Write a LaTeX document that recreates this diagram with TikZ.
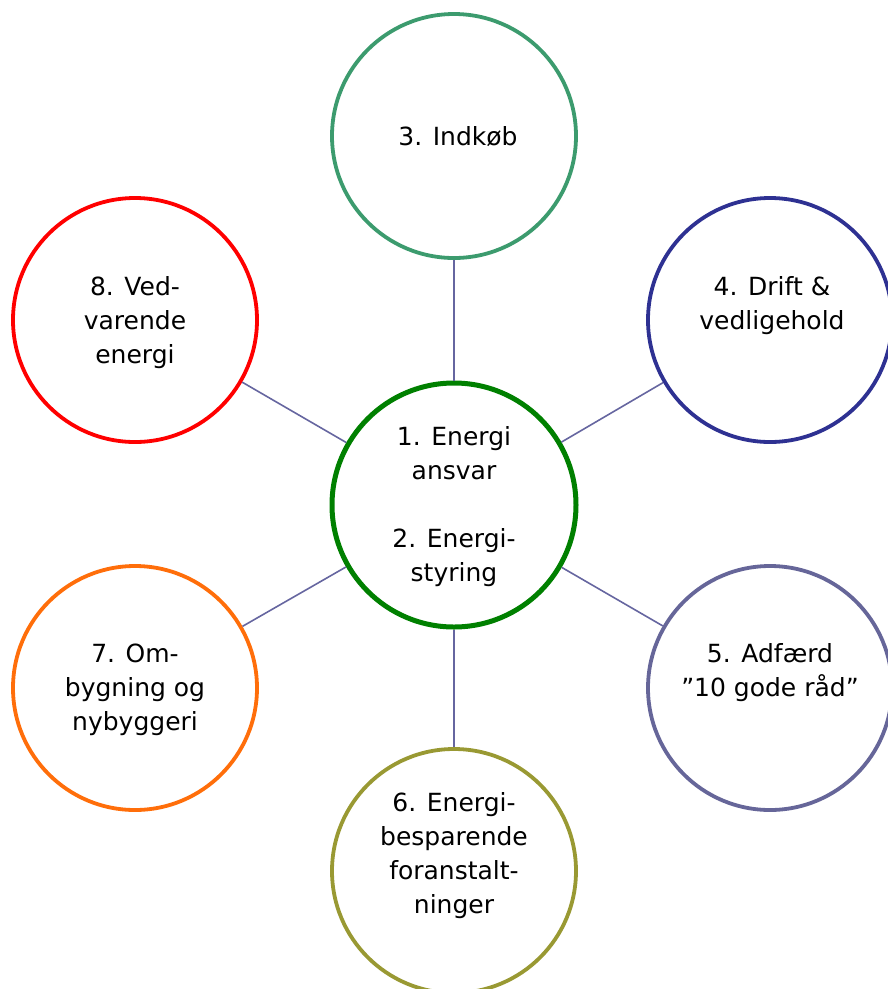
\documentclass[tikz,border=0pt]{standalone}
\usepackage{fontspec}
\setmainfont{DejaVu Sans}
\definecolor{cIndkob}{RGB}{60,155,110}
\definecolor{cDrift}{RGB}{46,49,146}
\definecolor{cAdfaerd}{RGB}{102,102,153}
\definecolor{cBesp}{RGB}{153,153,51}
\definecolor{cOmbyg}{RGB}{255,110,10}
\definecolor{cVed}{RGB}{255,0,0}
\definecolor{cCenter}{RGB}{0,128,0}
\definecolor{cLink}{RGB}{102,102,160}
\newcommand{\lines}[1]{\begin{tabular}[t]{@{}c@{}}#1\end{tabular}}
\tikzset{
  ring/.style={circle, draw=#1, line width=3.8pt, minimum size=244pt, inner sep=0pt, fill=white},
  hub/.style={circle, draw=cCenter, line width=5pt, minimum size=244pt, inner sep=0pt, fill=white},
  link/.style={draw=cLink, line width=1.6pt},
  lbl/.style={anchor=base, inner sep=0pt, font=\fontsize{25}{34}\selectfont}
}
\begin{document}
\begin{tikzpicture}[x=1pt,y=-1pt]
\useasboundingbox (0,0) rectangle (888,989);
\node[hub] (c) at (454,505) {};
\node[ring=cIndkob] (n3) at (454,136) {};
\node[ring=cDrift] (n4) at (770,320) {};
\node[ring=cAdfaerd] (n5) at (770,688) {};
\node[ring=cBesp] (n6) at (454,871) {};
\node[ring=cOmbyg] (n7) at (135,688) {};
\node[ring=cVed] (n8) at (135,320) {};
\foreach \n in {n3,n4,n5,n6,n7,n8} \draw[link] (c) -- (\n);
\node[lbl] (t1) at (454,445) {\lines{1. Energi\\ansvar\\ \\2. Energi-\\styring}};
\node[lbl] (t3) at (458,145) {\lines{3. Indkøb}};
\node[lbl] (t4) at (772,295) {\lines{4. Drift \&\\vedligehold}};
\node[lbl] (t5) at (770,662) {\lines{5. Adfærd\\”10 gode råd”}};
\node[lbl] (t6) at (454,811) {\lines{6. Energi-\\besparende\\foranstalt-\\ninger}};
\node[lbl] (t7) at (135,662) {\lines{7. Om-\\bygning og\\nybyggeri}};
\node[lbl] (t8) at (135,295) {\lines{8. Ved-\\varende\\energi}};
\end{tikzpicture}
\end{document}
